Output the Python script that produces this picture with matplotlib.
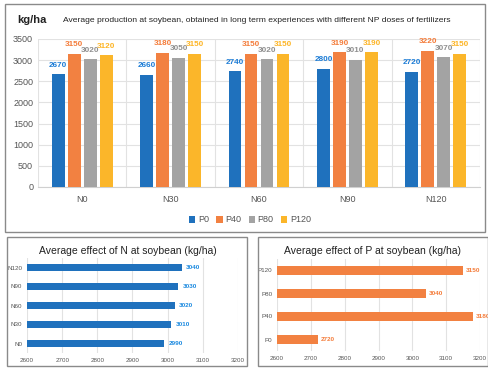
import matplotlib
matplotlib.use("Agg")
import numpy as np
import matplotlib.pyplot as plt
from matplotlib.patches import Rectangle

# Data
n_doses = ["N0", "N30", "N60", "N90", "N120"]
p_doses = ["P0", "P40", "P80", "P120"]
p0 = [2670, 2660, 2740, 2800, 2720]
p40 = [3150, 3180, 3150, 3190, 3220]
p80 = [3020, 3050, 3020, 3010, 3070]
p120 = [3120, 3150, 3150, 3190, 3150]

n_effect = [2990, 3010, 3020, 3030, 3040]
p_effect = [2720, 3180, 3040, 3150]

bar_colors = ["#1F71BD", "#F28141", "#A3A3A3", "#FBB62A"]
label_colors = ["#1C7CD6", "#F47C3A", "#8F8F8F", "#FDB526"]

W, H = 489, 368
plt.rcParams["font.family"] = ["Liberation Sans", "DejaVu Sans"]
fig = plt.figure(figsize=(W / 100, H / 100), dpi=100)
fig.patch.set_facecolor("white")


def fr(x0, y0, x1, y1):
    # pixel box -> figure fraction rect
    return [x0 / W, 1 - y1 / H, (x1 - x0) / W, (y1 - y0) / H]


# Panel frames
for x0, y0, x1, y1 in [(5, 4, 485, 232), (7, 237, 247, 366), (258, 237, 488, 366)]:
    fig.patches.append(Rectangle((x0 / W, 1 - y1 / H), (x1 - x0) / W, (y1 - y0) / H,
                                 transform=fig.transFigure, fill=False,
                                 edgecolor="#8a8a8a", linewidth=1.0))

# ---------------- Top grouped bar chart ----------------
ax = fig.add_axes(fr(38, 39, 480, 187))
x = np.arange(len(n_doses))
slot = 0.181
width = 0.147
series = [p0, p40, p80, p120]
for i, (vals, name) in enumerate(zip(series, p_doses)):
    bars = ax.bar(x + (i - 1.5) * slot, vals, width, color=bar_colors[i], label=name, zorder=3)
    ax.bar_label(bars, labels=[str(v) for v in vals], padding=4, fontsize=5.9,
                 fontweight="bold", color=label_colors[i])

ax.set_xlim(-0.5, len(n_doses) - 0.5)
ax.set_ylim(0, 3500)
ax.set_yticks(np.arange(0, 3501, 500))
ax.set_xticks(x)
ax.set_xticklabels(n_doses)
ax.tick_params(axis="both", length=0, labelsize=6.5, colors="#555555")
ax.tick_params(axis="x", pad=6)
ax.grid(axis="y", color="#e2e2e2", linewidth=0.8, zorder=0)
for b in np.arange(-0.5, len(n_doses), 1.0):
    ax.axvline(b, color="#e2e2e2", linewidth=0.8, zorder=0)
for s in ["top", "right", "left"]:
    ax.spines[s].set_visible(False)
ax.spines["bottom"].set_color("#d0d0d0")

fig.text(17 / W, 1 - 20 / H, "kg/ha", fontsize=8, fontweight="bold", va="center", color="#222222")
fig.text(257 / W, 1 - 20 / H,
         "Average production at soybean, obtained in long term experiences with different NP doses of fertilizers",
         fontsize=6.1, ha="center", va="center", color="#222222")

ax.legend(loc="center", bbox_to_anchor=(250 / W, 1 - 220 / H), bbox_transform=fig.transFigure,
          ncol=4, frameon=False, fontsize=6.5, handlelength=0.7, handleheight=0.7,
          columnspacing=0.8, handletextpad=0.3, labelcolor="#555555")

# ---------------- Bottom left: effect of N ----------------
axn = fig.add_axes(fr(27, 258, 238, 353))
yn = np.arange(len(n_doses))
bars = axn.barh(yn, n_effect, height=0.38, color=bar_colors[0], zorder=3)
axn.bar_label(bars, labels=[str(v) for v in n_effect], padding=3, fontsize=4.6,
              fontweight="bold", color="#1C8AE0")
axn.set_xlim(2600, 3200)
axn.set_ylim(-0.5, len(n_doses) - 0.5)
axn.set_yticks(yn)
axn.set_yticklabels(n_doses)
axn.set_xticks(np.arange(2600, 3201, 100))
axn.tick_params(axis="both", length=0, labelsize=4.5, colors="#555555")
axn.grid(axis="x", color="#e2e2e2", linewidth=0.8, zorder=0)
for s in axn.spines.values():
    s.set_visible(False)
fig.text(128 / W, 1 - 251 / H, "Average effect of N at soybean (kg/ha)",
         fontsize=7.5, ha="center", va="center", color="#222222")

# ---------------- Bottom right: effect of P ----------------
axp = fig.add_axes(fr(277, 259, 480, 351))
yp = np.arange(len(p_doses))
bars = axp.barh(yp, p_effect, height=0.35, color=bar_colors[1], zorder=3)
axp.bar_label(bars, labels=[str(v) for v in p_effect], padding=2, fontsize=4.6,
              fontweight="bold", color="#F47C3A", clip_on=False)
axp.set_xlim(2600, 3200)
axp.set_ylim(-0.5, len(p_doses) - 0.5)
axp.set_yticks(yp)
axp.set_yticklabels(p_doses)
axp.set_xticks(np.arange(2600, 3201, 100))
axp.tick_params(axis="both", length=0, labelsize=4.5, colors="#555555")
axp.grid(axis="x", color="#e2e2e2", linewidth=0.8, zorder=0)
for s in axp.spines.values():
    s.set_visible(False)
fig.text(372 / W, 1 - 251 / H, "Average effect of P at soybean (kg/ha)",
         fontsize=7.5, ha="center", va="center", color="#222222")

fig.savefig("out.png", dpi=100)
